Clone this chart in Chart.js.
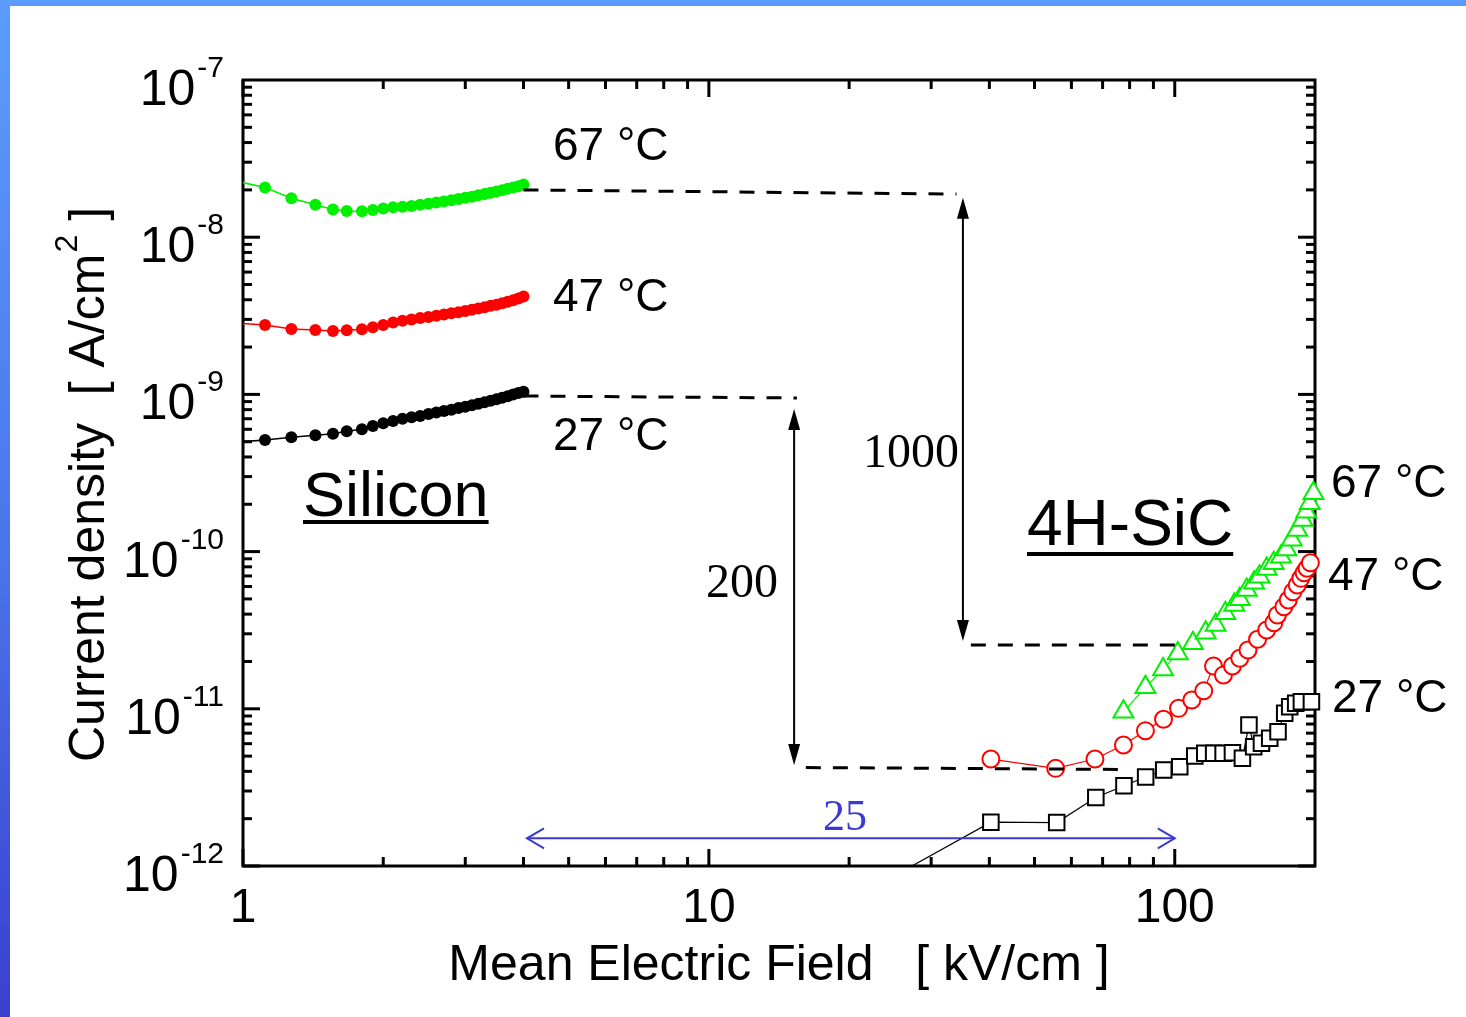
<!DOCTYPE html>
<html>
<head>
<meta charset="utf-8">
<title>Leakage current density: Silicon vs 4H-SiC</title>
<script src="https://cdn.jsdelivr.net/npm/chart.js@4.4.1/dist/chart.umd.min.js"></script>
<style>
  html, body { margin: 0; padding: 0; background: #ffffff; overflow: hidden; }
  #wrap { position: relative; width: 1466px; height: 1017px; }
  #edgeTop { position: absolute; left: 0; top: 0; width: 1466px; height: 6px; background: #5c9bfd; }
  #edgeLeft { position: absolute; left: 0; top: 0; width: 10px; height: 1017px;
              background: linear-gradient(#5c9cfe, #4a74ea 55%, #3a3fcf); }
  canvas { position: absolute; left: 0; top: 0; }
</style>
</head>
<body>
<div id="wrap">
  <div id="edgeTop"></div>
  <div id="edgeLeft"></div>
  <canvas id="chart" width="1466" height="1017"></canvas>
</div>
<script>
// ---- measured data: mean electric field [kV/cm] vs current density [A/cm^2] ----

// Silicon detector (first field value lies just left of the axis)
const siField = [0.95, 1.115, 1.27, 1.43, 1.56, 1.67, 1.8, 1.9, 2.0, 2.1, 2.2, 2.3, 2.4, 2.5,
                 2.6, 2.7, 2.8, 2.9, 3.0, 3.1, 3.2, 3.3, 3.4, 3.5, 3.6, 3.7, 3.8, 3.9, 4.0];
const siJ67 = [2.30e-8, 2.07e-8, 1.77e-8, 1.61e-8, 1.50e-8, 1.47e-8, 1.46e-8, 1.49e-8, 1.52e-8,
               1.55e-8, 1.56e-8, 1.58e-8, 1.61e-8, 1.63e-8, 1.66e-8, 1.69e-8, 1.72e-8, 1.75e-8,
               1.78e-8, 1.81e-8, 1.85e-8, 1.88e-8, 1.92e-8, 1.95e-8, 1.99e-8, 2.03e-8, 2.07e-8,
               2.11e-8, 2.16e-8];
const siJ47 = [2.85e-9, 2.76e-9, 2.61e-9, 2.57e-9, 2.53e-9, 2.56e-9, 2.60e-9, 2.67e-9, 2.76e-9,
               2.87e-9, 2.94e-9, 3.00e-9, 3.06e-9, 3.11e-9, 3.16e-9, 3.22e-9, 3.28e-9, 3.33e-9,
               3.39e-9, 3.45e-9, 3.52e-9, 3.59e-9, 3.66e-9, 3.72e-9, 3.80e-9, 3.88e-9, 3.97e-9,
               4.07e-9, 4.19e-9];
const siJ27 = [4.95e-10, 5.13e-10, 5.33e-10, 5.49e-10, 5.62e-10, 5.82e-10, 6.00e-10, 6.30e-10,
               6.55e-10, 6.77e-10, 7.00e-10, 7.16e-10, 7.30e-10, 7.50e-10, 7.66e-10, 7.83e-10,
               8.00e-10, 8.18e-10, 8.35e-10, 8.54e-10, 8.72e-10, 8.92e-10, 9.12e-10, 9.31e-10,
               9.52e-10, 9.74e-10, 9.97e-10, 1.02e-9, 1.04e-9];

// 4H-SiC detector
const sicField67 = [77.6, 86.5, 94.4, 101.5, 109.4, 116.5, 122.4, 128.4, 134.2, 137.9, 142.7, 148.0,
                    152.0, 157.5, 163.1, 169.1, 173.6, 178.3, 183.2, 188.1, 191.5, 194.9, 198.5];
const sicJ67 = [9.58e-12, 1.37e-11, 1.78e-11, 2.25e-11, 2.61e-11, 3.05e-11, 3.41e-11, 4.05e-11,
                4.57e-11, 4.97e-11, 5.70e-11, 6.34e-11, 6.92e-11, 7.75e-11, 8.42e-11, 9.28e-11,
                1.03e-10, 1.19e-10, 1.37e-10, 1.59e-10, 1.79e-10, 2.03e-10, 2.35e-10];

const sicField47 = [40.3, 55.5, 67.4, 77.6, 86.5, 94.6, 101.9, 108.8, 115.4, 121.1, 127.2, 133.0,
                    137.9, 143.6, 150.6, 157.5, 163.2, 166.1, 171.5, 175.2, 179.3, 183.2, 186.5,
                    189.5, 192.3, 195.5];
const sicJ47 = [4.79e-12, 4.18e-12, 4.79e-12, 5.89e-12, 7.26e-12, 8.58e-12, 1.007e-11, 1.138e-11,
                1.303e-11, 1.872e-11, 1.641e-11, 1.872e-11, 2.095e-11, 2.366e-11, 2.77e-11, 3.17e-11,
                3.53e-11, 3.95e-11, 4.46e-11, 4.92e-11, 5.56e-11, 6.13e-11, 6.76e-11, 7.34e-11,
                7.83e-11, 8.50e-11];

// first field value lies below the plotted current range
const sicField27 = [20, 40.3, 55.8, 67.7, 77.8, 86.6, 94.7, 102.5, 110.4, 116.0, 121.2, 127.0, 133.0,
                    139.7, 144.3, 147.7, 153.5, 159.9, 166.6, 172.2, 176.5, 181.8, 187.0, 196.5];
const sicJ27 = [6.0e-13, 1.90e-12, 1.89e-12, 2.73e-12, 3.24e-12, 3.68e-12, 4.08e-12, 4.28e-12,
                5.01e-12, 5.21e-12, 5.21e-12, 5.21e-12, 5.26e-12, 4.84e-12, 7.89e-12, 5.74e-12,
                6.03e-12, 6.49e-12, 7.15e-12, 9.36e-12, 1.031e-11, 1.084e-11, 1.11e-11, 1.11e-11];

// axis tick labels
const xTickValues = [1, 10, 100];
const xTickLabels = ['1', '10', '100'];
const yTickExponents = [-7, -8, -9, -10, -11, -12];
const yTickLabels = ['-7', '-8', '-9', '-10', '-11', '-12'];

// comparison guides, in field / current-density units
const levelLines = [
  [[4.0, 2.0e-8], [34.0, 1.88e-8]],       // Si 67 °C level
  [[36.5, 2.55e-11], [103.5, 2.55e-11]],  // SiC 67 °C level
  [[4.0, 9.77e-10], [15.45, 9.49e-10]],   // Si 27 °C level
  [[16.15, 4.23e-12], [80.1, 4.11e-12]]   // SiC 27 °C level
];
const ratioArrows = [
  { field: 35.1, from: 1.78e-8, to: 2.70e-11, label: '1000' },
  { field: 15.24, from: 8.07e-10, to: 4.39e-12, label: '200' }
];
const fieldSpan = { j: 1.5e-12, from: 4.07, to: 100, label: '25' };

// ---- drawing ----
const SANS = '"Liberation Sans", Arial, Helvetica, sans-serif';
const SERIF = '"Liberation Serif", "Times New Roman", serif';
const GREEN = '#00f000';
const RED = '#ff0000';
const BLACK = '#000000';
const BLUE = '#3a3ad2';

const toPoints = (xs, ys) => xs.map((v, i) => ({ x: v, y: ys[i] }));

function siliconSet(ys, color) {
  return {
    data: toPoints(siField, ys),
    showLine: true,
    borderColor: color,
    backgroundColor: color,
    borderWidth: 1.5,
    pointRadius: 6,
    pointBorderWidth: 0,
    pointBackgroundColor: color,
    clip: { left: 0, top: false, right: false, bottom: false }
  };
}

function sicSet(xs, ys, color, style, radius) {
  return {
    data: toPoints(xs, ys),
    showLine: true,
    borderColor: color,
    backgroundColor: '#ffffff',
    borderWidth: 1.2,
    pointStyle: style,
    pointRadius: radius,
    pointBorderWidth: 2,
    pointBorderColor: color,
    pointBackgroundColor: '#ffffff',
    clip: { left: false, top: false, right: false, bottom: 0 }
  };
}

function strokeLine(ctx, x1, y1, x2, y2) {
  ctx.beginPath();
  ctx.moveTo(x1, y1);
  ctx.lineTo(x2, y2);
  ctx.stroke();
}

const frameAndTicks = {
  id: 'frameAndTicks',
  beforeDatasetsDraw(chart) {
    const { ctx, chartArea: a, scales: { x, y } } = chart;
    ctx.save();
    ctx.strokeStyle = BLACK;
    ctx.lineWidth = 3;
    ctx.lineCap = 'butt';
    ctx.strokeRect(a.left, a.top, a.right - a.left, a.bottom - a.top);
    for (let d = 1; d <= 100; d *= 10) {
      for (let m = 1; m <= 9; m++) {
        const v = m * d;
        if (v >= 200) continue;
        const X = x.getPixelForValue(v);
        const len = m === 1 ? 17 : 9;
        strokeLine(ctx, X, a.bottom, X, a.bottom - len);
        strokeLine(ctx, X, a.top, X, a.top + len);
      }
    }
    for (let e = -12; e <= -8; e++) {
      for (let m = 1; m <= 9; m++) {
        const Y = y.getPixelForValue(m * Math.pow(10, e));
        const len = m === 1 ? 17 : 9;
        strokeLine(ctx, a.left, Y, a.left + len, Y);
        strokeLine(ctx, a.right, Y, a.right - len, Y);
      }
    }
    ctx.restore();
  }
};

function filledHead(ctx, x, y, dir) {
  // dir = -1: pointing up, +1: pointing down; tip at (x, y)
  ctx.beginPath();
  ctx.moveTo(x, y);
  ctx.lineTo(x - 6, y - dir * 21);
  ctx.lineTo(x + 6, y - dir * 21);
  ctx.closePath();
  ctx.fill();
}

function underlinedText(ctx, text, x, baseline, size, gap) {
  ctx.font = `${size}px ${SANS}`;
  ctx.fillText(text, x, baseline);
  const w = ctx.measureText(text).width;
  ctx.fillRect(x, baseline + gap, w, 4);
}

const annotations = {
  id: 'annotations',
  afterDatasetsDraw(chart) {
    const { ctx, chartArea: a, scales: { x, y } } = chart;
    ctx.save();

    // dashed level lines
    ctx.strokeStyle = BLACK;
    ctx.lineWidth = 3;
    ctx.setLineDash([15, 12]);
    levelLines.forEach(([p, q]) => {
      strokeLine(ctx, x.getPixelForValue(p[0]), y.getPixelForValue(p[1]),
                      x.getPixelForValue(q[0]), y.getPixelForValue(q[1]));
    });
    ctx.setLineDash([]);

    // vertical ratio arrows
    ctx.lineWidth = 2;
    ctx.fillStyle = BLACK;
    ratioArrows.forEach(r => {
      const X = x.getPixelForValue(r.field);
      const Y1 = y.getPixelForValue(r.from);
      const Y2 = y.getPixelForValue(r.to);
      strokeLine(ctx, X, Y1 + 12, X, Y2 - 12);
      filledHead(ctx, X, Y1, -1);
      filledHead(ctx, X, Y2, 1);
    });

    // horizontal field-ratio arrow
    ctx.strokeStyle = BLUE;
    ctx.lineWidth = 2;
    const bx1 = x.getPixelForValue(fieldSpan.from);
    const bx2 = x.getPixelForValue(fieldSpan.to);
    const by = y.getPixelForValue(fieldSpan.j);
    strokeLine(ctx, bx1, by, bx2, by);
    ctx.beginPath();
    ctx.moveTo(bx1 + 17, by - 10); ctx.lineTo(bx1, by); ctx.lineTo(bx1 + 17, by + 10);
    ctx.moveTo(bx2 - 17, by - 10); ctx.lineTo(bx2, by); ctx.lineTo(bx2 - 17, by + 10);
    ctx.stroke();

    // ratio numbers
    ctx.textAlign = 'left';
    ctx.textBaseline = 'alphabetic';
    ctx.fillStyle = BLACK;
    ctx.font = `48px ${SERIF}`;
    ctx.fillText(ratioArrows[0].label, 863, 467);
    ctx.fillText(ratioArrows[1].label, 706, 597);
    ctx.fillStyle = BLUE;
    ctx.font = `44px ${SERIF}`;
    ctx.fillText(fieldSpan.label, 823, 830);

    // temperature labels
    ctx.fillStyle = BLACK;
    ctx.font = `46px ${SANS}`;
    ctx.fillText('67 °C', 553, 160);
    ctx.fillText('47 °C', 553, 311);
    ctx.fillText('27 °C', 553, 450);
    ctx.fillText('67 °C', 1331, 497);
    ctx.fillText('47 °C', 1328, 590);
    ctx.fillText('27 °C', 1332, 712);

    // material labels
    underlinedText(ctx, 'Silicon', 303, 516, 63, 4);
    underlinedText(ctx, '4H-SiC', 1027, 545, 64, 7);

    // y tick labels: 10 with superscript exponent
    yTickExponents.forEach((e, i) => {
      const Y = y.getPixelForValue(Math.pow(10, e));
      const rightEdge = a.left - 19;
      ctx.textAlign = 'right';
      ctx.font = `30px ${SANS}`;
      ctx.fillText(yTickLabels[i], rightEdge, Y - 3);
      const sw = ctx.measureText(yTickLabels[i]).width;
      ctx.font = `50px ${SANS}`;
      ctx.fillText('10', rightEdge - sw - 2, Y + 25);
    });

    // x tick labels
    ctx.textAlign = 'center';
    ctx.font = `48px ${SANS}`;
    xTickValues.forEach((v, i) => {
      ctx.fillText(xTickLabels[i], x.getPixelForValue(v), a.bottom + 56);
    });

    // axis titles
    ctx.font = `50px ${SANS}`;
    ctx.fillText('Mean Electric Field   [ kV/cm ]', (a.left + a.right) / 2, a.bottom + 114);

    ctx.save();
    ctx.translate(104, 762);
    ctx.rotate(-Math.PI / 2);
    ctx.textAlign = 'left';
    ctx.font = `50px ${SANS}`;
    const head = 'Current density  [ A/cm';
    ctx.fillText(head, 0, 0);
    let cx = ctx.measureText(head).width;
    ctx.font = `32px ${SANS}`;
    ctx.fillText('2', cx + 1, -27);
    cx += ctx.measureText('2').width + 1;
    ctx.font = `50px ${SANS}`;
    ctx.fillText(' ]', cx, 0);
    ctx.restore();

    ctx.restore();
  }
};

Chart.defaults.font.family = SANS;

new Chart(document.getElementById('chart'), {
  type: 'scatter',
  data: {
    datasets: [
      siliconSet(siJ67, GREEN),
      siliconSet(siJ47, RED),
      siliconSet(siJ27, BLACK),
      sicSet(sicField27, sicJ27, BLACK, 'rect', 11),
      sicSet(sicField47, sicJ47, RED, 'circle', 8.5),
      sicSet(sicField67, sicJ67, GREEN, 'triangle', 11.5)
    ]
  },
  options: {
    responsive: false,
    devicePixelRatio: 1,
    animation: false,
    events: [],
    layout: { padding: { left: 243, right: 151, top: 80, bottom: 151 } },
    scales: {
      x: { type: 'logarithmic', min: 1, max: 200, display: false },
      y: { type: 'logarithmic', min: 1e-12, max: 1e-7, display: false }
    },
    plugins: {
      legend: { display: false },
      tooltip: { enabled: false }
    }
  },
  plugins: [frameAndTicks, annotations]
});
</script>
</body>
</html>
